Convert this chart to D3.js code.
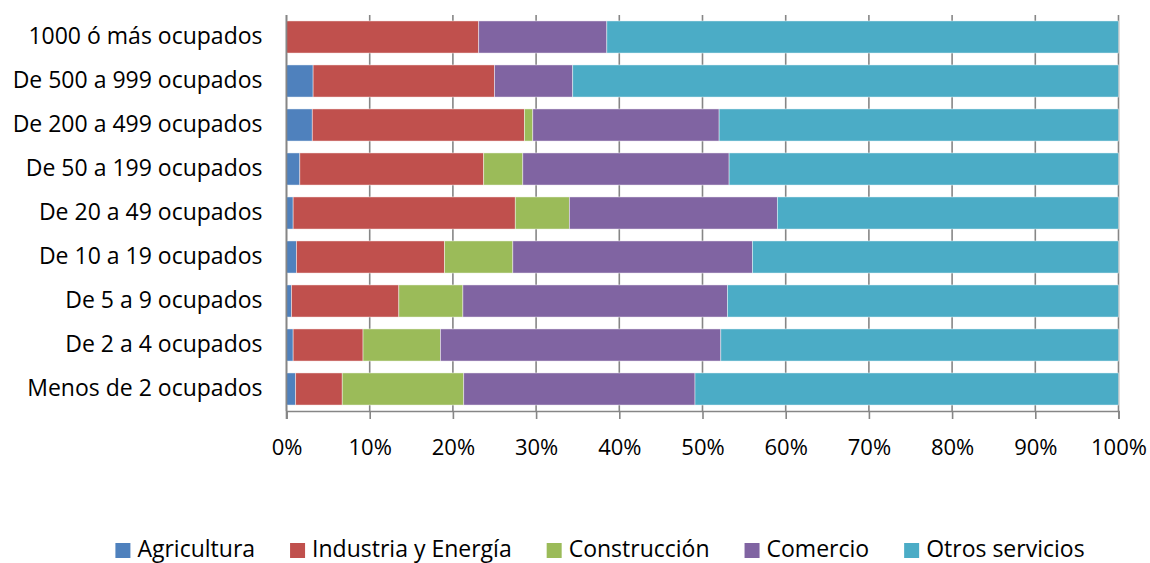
<!DOCTYPE html>
<html>
<head>
<meta charset="utf-8">
<script src="https://cdn.jsdelivr.net/npm/d3@7"></script>
<style>
  html, body { margin: 0; padding: 0; background: #fff; }
  svg { display: block; }
  text { font-family: "Open Sans", "Noto Sans", sans-serif; fill: #000; }
</style>
</head>
<body>
<svg id="chart" width="1150" height="563"></svg>
<script>
const categories = [
  "1000 ó más ocupados",
  "De 500 a 999 ocupados",
  "De 200 a 499 ocupados",
  "De 50 a 199 ocupados",
  "De 20 a 49 ocupados",
  "De 10 a 19 ocupados",
  "De 5 a 9 ocupados",
  "De 2 a 4 ocupados",
  "Menos de 2 ocupados"
];
const seriesNames = ["Agricultura", "Industria y Energía", "Construcción", "Comercio", "Otros servicios"];
const agricultura   = [0.0, 3.2, 3.1, 1.6, 0.8, 1.2, 0.6, 0.8, 1.1];
const industria     = [23.1, 21.8, 25.5, 22.1, 26.7, 17.8, 12.9, 8.4, 5.6];
const construccion  = [0.0, 0.0, 1.0, 4.7, 6.5, 8.2, 7.7, 9.3, 14.6];
const comercio      = [15.4, 9.4, 22.4, 24.8, 25.0, 28.8, 31.8, 33.7, 27.8];
const otros         = [61.5, 65.6, 48.0, 46.8, 41.0, 44.0, 47.0, 47.8, 50.9];
const tickValues = [0, 10, 20, 30, 40, 50, 60, 70, 80, 90, 100];
const colors = ["#4F81BD", "#C0504D", "#9BBB59", "#8064A2", "#4BACC6"];

const seriesValues = [agricultura, industria, construccion, comercio, otros];
const rows = categories.map((c, i) => {
  const o = { cat: c };
  seriesNames.forEach((s, j) => o[s] = seriesValues[j][i]);
  return o;
});

const svg = d3.select("#chart");
const margin = { left: 286.5, right: 31.5, top: 15, bottom: 152 };
const W = 1150, H = 563;
const x = d3.scaleLinear().domain([0, 100]).range([margin.left, W - margin.right]);
const y = d3.scaleBand().domain(categories).range([margin.top, H - margin.bottom]).paddingInner(0.27).paddingOuter(0.135);

// gridlines
svg.append("g").selectAll("line").data(tickValues).join("line")
  .attr("x1", d => x(d)).attr("x2", d => x(d))
  .attr("y1", margin.top).attr("y2", H - margin.bottom)
  .attr("stroke", "#868686").attr("stroke-width", 1.6);

// stacked bars
const stack = d3.stack().keys(seriesNames);
const stacked = stack(rows);
svg.append("g").selectAll("g").data(stacked).join("g")
  .attr("fill", (d, i) => colors[i])
  .selectAll("rect").data(d => d.filter(p => p[1] - p[0] > 0)).join("rect")
  .attr("x", d => x(d[0]))
  .attr("width", d => x(d[1]) - x(d[0]))
  .attr("y", d => y(d.data.cat))
  .attr("height", y.bandwidth())
  .attr("stroke", "rgba(255,255,255,0.55)")
  .attr("stroke-width", 0.8);

// x axis
const xAxis = d3.axisBottom(x).tickValues(tickValues).tickFormat(d => d + "%").tickSize(8).tickPadding(20);
const gx = svg.append("g").attr("transform", `translate(0,${H - margin.bottom})`).call(xAxis);
gx.select(".domain").attr("stroke", "#868686").attr("stroke-width", 1.6);
gx.selectAll(".tick line").attr("stroke", "#868686").attr("stroke-width", 1.6);
gx.selectAll(".tick text").attr("font-size", 22).attr("font-family", "'Open Sans', sans-serif").attr("fill", "#000");

// y axis
const yAxis = d3.axisLeft(y).tickSize(0).tickPadding(24);
const gy = svg.append("g").attr("transform", `translate(${margin.left},0)`).call(yAxis);
gy.select(".domain").remove();
svg.append("line").attr("x1", x(0)).attr("x2", x(0)).attr("y1", margin.top).attr("y2", H - margin.bottom + 8)
  .attr("stroke", "#868686").attr("stroke-width", 1.6);
gy.selectAll(".tick text").attr("font-size", 23).attr("font-family", "'Open Sans', sans-serif").attr("fill", "#000");

// legend
const legend = svg.append("g");
const items = legend.selectAll("g").data(seriesNames).join("g");
items.append("rect").attr("width", 15).attr("height", 15).attr("y", -14).attr("fill", (d, i) => colors[i]);
items.append("text").attr("x", 22).attr("y", 0).attr("font-size", 23).text(d => d);
let cx = 0;
const gap = 35;
const positions = [];
items.each(function () {
  const w = 22 + d3.select(this).select("text").node().getComputedTextLength();
  positions.push(cx);
  cx += w + gap;
});
const totalW = cx - gap;
const startX = (119 + 1081) / 2 - totalW / 2;
items.attr("transform", (d, i) => `translate(${startX + positions[i]},557)`);
</script>
</body>
</html>
